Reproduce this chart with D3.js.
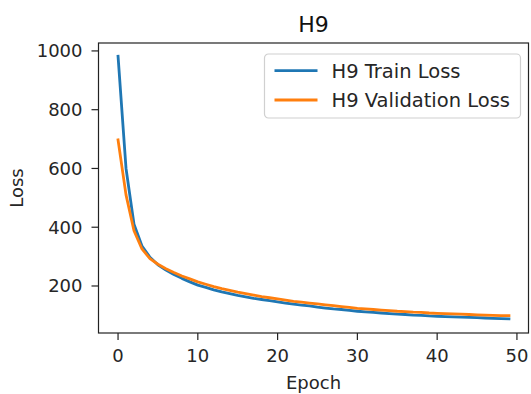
<!DOCTYPE html>
<html lang="en">
<head>
    <meta charset="UTF-8">
    <title>H9</title>
    <script src="https://d3js.org/d3.v7.min.js"></script>
    <style>
        body { margin: 0; background: white; font-family: "DejaVu Sans", sans-serif; }
        svg { display: block; }
        .tick-label { font-size: 18px; fill: #262626; }
        .axis-label { font-size: 18px; fill: #262626; }
        .legend-text { font-size: 19.5px; fill: #262626; }
    </style>
</head>
<body>
    <svg id="chart" width="531" height="394"></svg>

    <script>
    // loss per epoch
    const epochs = d3.range(0, 50);
    const trainLoss = [
        982, 600, 410, 336, 298, 272, 254, 239, 226, 214,
        203, 195, 187, 180, 174, 168, 163, 158, 154, 150,
        146, 142, 138, 135, 132, 128, 125, 122, 120, 117,
        114, 112, 110, 108, 106, 104, 103, 101, 100, 98,
        97, 96, 95, 94, 93, 92, 91, 90, 89, 88
    ];
    const valLoss = [
        697, 510, 388, 326, 293, 274, 259, 246, 234, 224,
        214, 206, 198, 191, 185, 179, 174, 169, 164, 160,
        156, 152, 148, 145, 142, 139, 136, 133, 130, 127,
        124, 122, 120, 118, 116, 114, 113, 111, 110, 108,
        107, 106, 105, 104, 103, 102, 101, 100, 99, 99
    ];
    const xTicks = [0, 10, 20, 30, 40, 50];
    const yTicks = [200, 400, 600, 800, 1000];
    const seriesNames = ['H9 Train Loss', 'H9 Validation Loss'];
    const colors = ['#1f77b4', '#ff7f0e'];

    const plot = { left: 98.5, right: 528.5, top: 43, bottom: 333 };

    const svg = d3.select('#chart');

    const x = d3.scaleLinear().domain([-2.45, 51.45]).range([plot.left, plot.right]);
    const y = d3.scaleLinear().domain([40, 1027]).range([plot.bottom, plot.top]);

    const series = [trainLoss, valLoss];
    const line = d3.line()
        .x((d, i) => x(epochs[i]))
        .y(d => y(d));

    svg.selectAll('path.loss')
        .data(series)
        .join('path')
        .attr('class', 'loss')
        .attr('d', line)
        .attr('fill', 'none')
        .attr('stroke', (d, i) => colors[i])
        .attr('stroke-width', 2.8)
        .attr('stroke-linejoin', 'round')
        .attr('stroke-linecap', 'square');

    // frame
    svg.append('rect')
        .attr('x', plot.left).attr('y', plot.top)
        .attr('width', plot.right - plot.left).attr('height', plot.bottom - plot.top)
        .attr('fill', 'none')
        .attr('stroke', '#222')
        .attr('stroke-width', 1.2);

    // x ticks
    const xt = svg.append('g').selectAll('g')
        .data(xTicks)
        .join('g')
        .attr('transform', d => `translate(${x(d)},${plot.bottom})`);
    xt.append('line').attr('y2', 7).attr('stroke', '#222').attr('stroke-width', 1.2);
    xt.append('text')
        .attr('class', 'tick-label')
        .attr('y', 28.5)
        .attr('text-anchor', 'middle')
        .text(d => d);

    // y ticks
    const yt = svg.append('g').selectAll('g')
        .data(yTicks)
        .join('g')
        .attr('transform', d => `translate(${plot.left},${y(d)})`);
    yt.append('line').attr('x2', -7).attr('stroke', '#222').attr('stroke-width', 1.2);
    yt.append('text')
        .attr('class', 'tick-label')
        .attr('x', -16)
        .attr('dy', '0.35em')
        .attr('text-anchor', 'end')
        .text(d => d);

    // labels and title
    svg.append('text')
        .attr('class', 'axis-label')
        .attr('x', (plot.left + plot.right) / 2)
        .attr('y', 389)
        .attr('text-anchor', 'middle')
        .text('Epoch');

    svg.append('text')
        .attr('class', 'axis-label')
        .attr('transform', `translate(23,${(plot.top + plot.bottom) / 2}) rotate(-90)`)
        .attr('text-anchor', 'middle')
        .text('Loss');

    svg.append('text')
        .attr('x', (plot.left + plot.right) / 2)
        .attr('y', 31.5)
        .attr('text-anchor', 'middle')
        .style('font-size', '22px')
        .style('fill', '#111')
        .text('H9');

    // legend
    const legend = svg.append('g').attr('transform', 'translate(264.5,54)');
    legend.append('rect')
        .attr('width', 256).attr('height', 64)
        .attr('rx', 4)
        .attr('fill', 'white')
        .attr('stroke', '#d0d0d0')
        .attr('stroke-width', 1.2);
    const items = legend.selectAll('g.item')
        .data(seriesNames)
        .join('g')
        .attr('class', 'item')
        .attr('transform', (d, i) => `translate(0,${16.7 + i * 29.3})`);
    items.append('line')
        .attr('x1', 10).attr('x2', 53)
        .attr('stroke', (d, i) => colors[i])
        .attr('stroke-width', 2.8);
    items.append('text')
        .attr('class', 'legend-text')
        .attr('x', 67)
        .attr('dy', '0.35em')
        .text(d => d);
    </script>
</body>
</html>
